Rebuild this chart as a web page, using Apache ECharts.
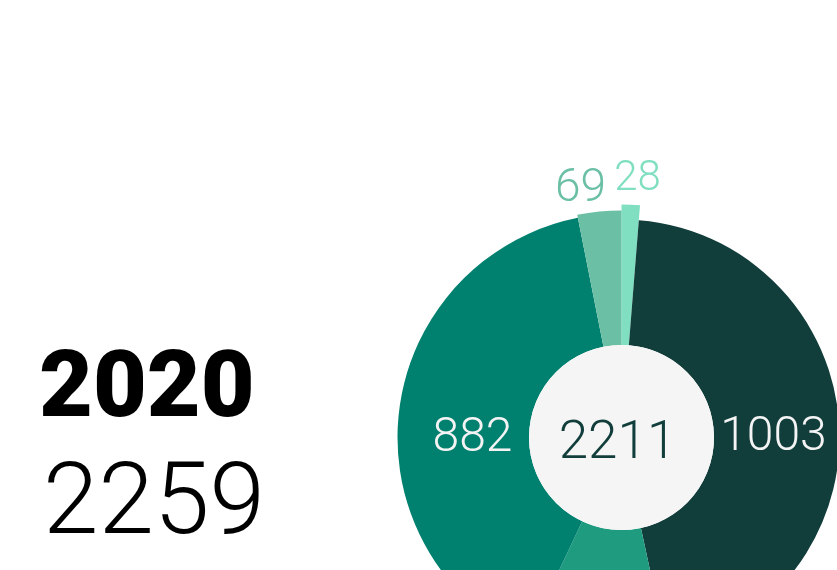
<!DOCTYPE html>
<html lang="en">
<head>
    <meta charset="UTF-8">
    <title>2020</title>
    <script src="https://cdn.jsdelivr.net/npm/echarts@6.0.0/dist/echarts.min.js"></script>
    <style>
        html, body { margin: 0; padding: 0; background: #ffffff; }
        #main { width: 837px; height: 570px; }
    </style>
</head>
<body>
<div id="main"></div>
<script>
    // data, clockwise from the top
    var yearLabel = '2020'
    var yearTotal = 2259
    var values = [28, 1003, 229, 882, 69]
    var colors = ['#80dfc0', '#113d3b', '#1f9b80', '#00806f', '#6abfa5']
    var outerRadius = [233, 218, 224, 224, 227]
    var labelPos = ['outside', 'inside', 'inside', 'inside', 'outside']
    var labelSize = [42, 48, 48, 48, 46]
    var labelShift = [[-22, -13], [-6, 11], [0, 0], [11, 21], [13, -10]]

    var center = [621.5, 437.5]
    var innerRadius = 92.5
    var total = values.reduce(function (a, b) { return a + b }, 0)

    var chart = echarts.init(document.getElementById('main'), null, {renderer: 'canvas'})

    var series = []
    // one pie per slice so each slice can have its own outer radius
    values.forEach(function (v, i) {
        var outside = labelPos[i] === 'outside'
        series.push({
            type: 'pie',
            center: center,
            radius: [innerRadius, outerRadius[i]],
            startAngle: 90,
            clockwise: true,
            silent: true,
            avoidLabelOverlap: false,
            animation: false,
            z: 2,
            labelLine: {show: false, length: 12, length2: 0},
            labelLayout: {dx: labelShift[i][0], dy: labelShift[i][1]},
            data: values.map(function (val, j) {
                return {
                    value: val,
                    name: 's' + j,
                    itemStyle: {color: j === i ? colors[i] : 'rgba(0,0,0,0)', borderWidth: 0},
                    label: {
                        show: j === i,
                        position: labelPos[i],
                        formatter: '{c}',
                        color: outside ? colors[i] : '#f4f4f4',
                        fontFamily: 'Roboto',
                        fontWeight: 300,
                        fontSize: labelSize[i]
                    }
                }
            })
        })
    })

    // light centre disc with the total
    series.push({
        type: 'pie',
        center: center,
        radius: [0, innerRadius],
        silent: true,
        animation: false,
        z: 3,
        labelLine: {show: false},
        labelLayout: {dx: -4, dy: 7},
        data: [{
            value: total,
            itemStyle: {color: '#f5f5f5', borderWidth: 0},
            label: {
                show: true,
                position: 'center',
                formatter: '{c}',
                color: '#113d3b',
                fontFamily: 'Roboto',
                fontWeight: 300,
                fontSize: 53
            }
        }]
    })

    var option = {
        backgroundColor: '#ffffff',
        title: [{
            text: yearLabel,
            left: 34,
            top: 341,
            textStyle: {fontFamily: 'Roboto', fontWeight: 900, fontSize: 93, color: '#000000'}
        }, {
            text: String(yearTotal),
            left: 38,
            top: 453,
            textStyle: {fontFamily: 'Roboto', fontWeight: 300, fontSize: 100, color: '#000000'}
        }],
        series: series
    }
    chart.setOption(option)
</script>
</body>
</html>
